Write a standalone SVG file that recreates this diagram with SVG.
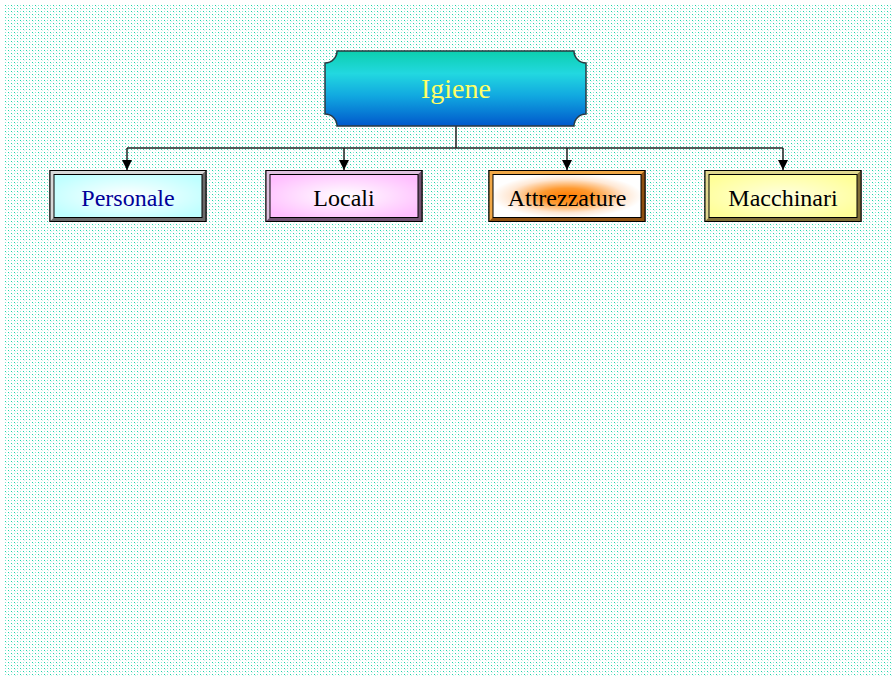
<svg xmlns="http://www.w3.org/2000/svg" width="892" height="677" viewBox="0 0 892 677">
<defs>
<pattern id="dots" x="5" y="5" width="6" height="6" patternUnits="userSpaceOnUse">
<rect x="0" y="0" width="6" height="6" fill="#FFFFFF"/>
<rect x="0" y="0" width="1" height="1" fill="#1CD6A8" shape-rendering="crispEdges"/>
<rect x="3" y="3" width="1" height="1" fill="#1CD6A8" shape-rendering="crispEdges"/>
<rect x="3" y="0" width="1" height="1" fill="#8CE8D4" shape-rendering="crispEdges"/>
<rect x="0" y="3" width="1" height="1" fill="#8CE8D4" shape-rendering="crispEdges"/>
<rect x="1" y="1" width="1" height="1" fill="#D0F4EC" shape-rendering="crispEdges"/>
<rect x="4" y="4" width="1" height="1" fill="#D0F4EC" shape-rendering="crispEdges"/>
</pattern>
<linearGradient id="gTop" x1="0" y1="0" x2="0" y2="1">
<stop offset="0" stop-color="#0CCFAE"/>
<stop offset="0.3" stop-color="#22D8E0"/>
<stop offset="0.6" stop-color="#11A8E0"/>
<stop offset="1" stop-color="#0058CC"/>
</linearGradient>
<radialGradient id="gPers" cx="0.5" cy="0.5" r="0.6">
<stop offset="0" stop-color="#FFFFFF"/>
<stop offset="1" stop-color="#BFFFFF"/>
</radialGradient>
<radialGradient id="gLoc" cx="0.5" cy="0.5" r="0.6">
<stop offset="0" stop-color="#FFFFFF"/>
<stop offset="1" stop-color="#FFBFFF"/>
</radialGradient>
<radialGradient id="gAtt" cx="0.5" cy="0.5" r="0.6">
<stop offset="0" stop-color="#FF7C00"/>
<stop offset="0.3" stop-color="#FF9A30"/>
<stop offset="0.65" stop-color="#FFE8D4"/>
<stop offset="0.85" stop-color="#FFFFFF"/>
</radialGradient>
<radialGradient id="gMac" cx="0.5" cy="0.5" r="0.6">
<stop offset="0" stop-color="#FFFFE0"/>
<stop offset="1" stop-color="#FFFF99"/>
</radialGradient>
<marker id="arr" viewBox="0 0 10 10" refX="10" refY="5" markerWidth="10" markerHeight="10" markerUnits="userSpaceOnUse" orient="auto">
<path d="M0,0 L10,5 L0,10 Z" fill="#000"/>
</marker>
</defs>
<style>
.frame{stroke:#000;stroke-width:1}
.lbl{font-family:"Liberation Serif","Times New Roman",serif;font-size:24px;text-anchor:middle}
.conn{fill:none;stroke:#222;stroke-width:1.5}
</style>
<rect x="0" y="0" width="892" height="677" fill="#FFFFFF"/>
<rect x="5" y="5" width="887" height="672" fill="url(#dots)"/>

<g id="connectors">
<path class="conn" d="M456,126 V148 M127,148 H783"/>
<path class="conn" d="M127,148 V170" marker-end="url(#arr)"/>
<path class="conn" d="M344,148 V170" marker-end="url(#arr)"/>
<path class="conn" d="M567,148 V170" marker-end="url(#arr)"/>
<path class="conn" d="M783,148 V170" marker-end="url(#arr)"/>
</g>

<g id="igiene">
<path d="M337,51 H574 A12,12 0 0 0 586,63 V114 A12,12 0 0 0 574,126 H337 A12,12 0 0 0 325,114 V63 A12,12 0 0 0 337,51 Z" fill="url(#gTop)" stroke="#2A3A40" stroke-width="1.5"/>
<text x="456" y="98" font-family="'Liberation Serif','Times New Roman',serif" font-size="28" fill="#FFFF66" text-anchor="middle">Igiene</text>
</g>

<g id="personale">
<rect x="50" y="170.5" width="156" height="51" fill="#A0A0A0" class="frame"/>
<polygon points="50,170.5 206,170.5 202,174.5 54,174.5 54,217.5 50,221.5" fill="#D8D8D8"/>
<polygon points="206,221.5 50,221.5 54,217.5 202,217.5 202,174.5 206,170.5" fill="#6A6A6A"/>
<rect x="50" y="170.5" width="156" height="51" fill="none" class="frame"/>
<rect x="54" y="174.5" width="148" height="43" fill="url(#gPers)" class="frame"/>
<text x="128" y="206" class="lbl" fill="#000099">Personale</text>
</g>

<g id="locali">
<rect x="266" y="170.5" width="156" height="51" fill="#A080A0" class="frame"/>
<polygon points="266,170.5 422,170.5 418,174.5 270,174.5 270,217.5 266,221.5" fill="#E0C0E0"/>
<polygon points="422,221.5 266,221.5 270,217.5 418,217.5 418,174.5 422,170.5" fill="#705070"/>
<rect x="266" y="170.5" width="156" height="51" fill="none" class="frame"/>
<rect x="270" y="174.5" width="148" height="43" fill="url(#gLoc)" class="frame"/>
<text x="344" y="206" class="lbl" fill="#000">Locali</text>
</g>

<g id="attrezzature">
<rect x="489" y="170.5" width="156" height="51" fill="#C07818" class="frame"/>
<polygon points="489,170.5 645,170.5 641,174.5 493,174.5 493,217.5 489,221.5" fill="#F0A848"/>
<polygon points="645,221.5 489,221.5 493,217.5 641,217.5 641,174.5 645,170.5" fill="#905010"/>
<rect x="489" y="170.5" width="156" height="51" fill="none" class="frame"/>
<rect x="493" y="174.5" width="148" height="43" fill="url(#gAtt)" class="frame"/>
<text x="567" y="206" class="lbl" fill="#000">Attrezzature</text>
</g>

<g id="macchinari">
<rect x="705" y="170.5" width="156" height="51" fill="#B0A060" class="frame"/>
<polygon points="705,170.5 861,170.5 857,174.5 709,174.5 709,217.5 705,221.5" fill="#E0D890"/>
<polygon points="861,221.5 705,221.5 709,217.5 857,217.5 857,174.5 861,170.5" fill="#807038"/>
<rect x="705" y="170.5" width="156" height="51" fill="none" class="frame"/>
<rect x="709" y="174.5" width="148" height="43" fill="url(#gMac)" class="frame"/>
<text x="783" y="206" class="lbl" fill="#000">Macchinari</text>
</g>
</svg>
